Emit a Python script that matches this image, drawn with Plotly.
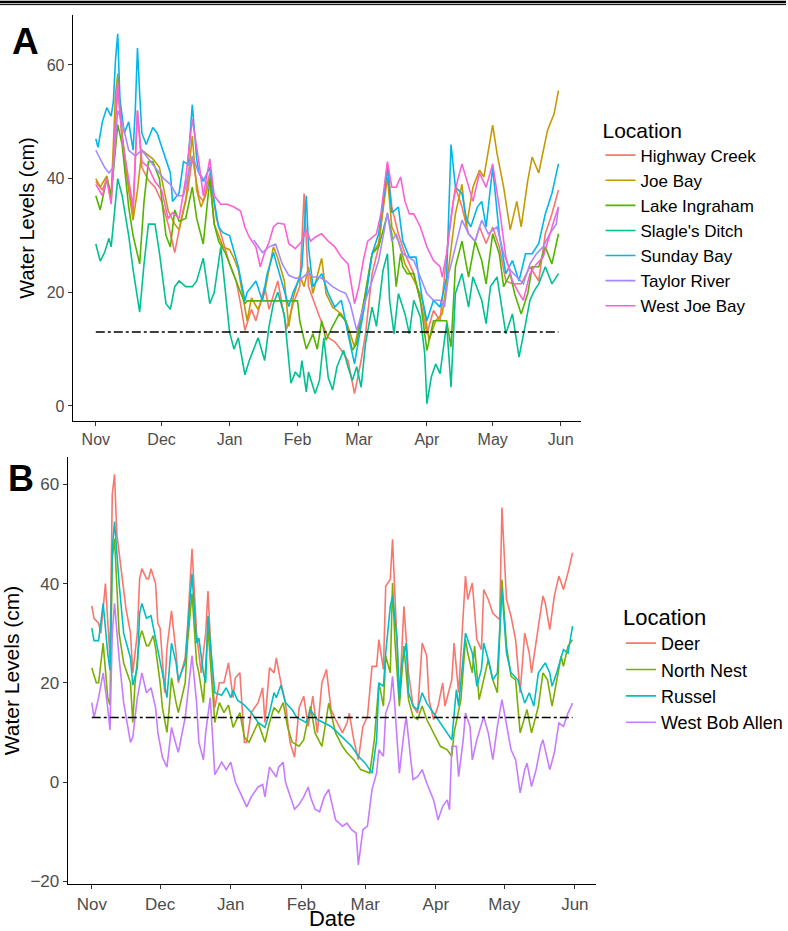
import pandas as pd
import plotly.graph_objects as go

# ---------------- data (day offsets from Nov 1, water level in cm) ----------------
month_labels = ["Nov", "Dec", "Jan", "Feb", "Mar", "Apr", "May", "Jun"]
month_dates = ["2018-11-01", "2018-12-01", "2019-01-01", "2019-02-01",
               "2019-03-01", "2019-04-01", "2019-05-01", "2019-06-01"]
threshold = 13

# Panel A
hc_days = [0,3,5,7,9,10,12,14,17,19,21,24,27,30,33,36,39,42,44,47,49,52,55,58,61,64,66,68,71,73,77,79,83,87,90,93,95,97,102,106,109,112,115,118,121,123,126,129,133,135,138,141,145,149,151,154,157,161,164,167,170,173,175,178,181,184,187,190,194,198,202,205,208,211]
hc_vals = [39.5,38,40,36,50,56,47,41,33.8,52,42,39.7,38.5,36,32,27,33,38,43.8,37,36,41,33,29,25,22,18,13.3,17,15,21,17,22,13.5,18,21,37.4,21,15.7,12,11.3,9.8,8,2.2,8,12.7,23.3,28,42.6,35,30.3,26.8,23.3,16.8,12.7,16.8,15,30.3,38.5,35,30.3,29,31.5,28.6,31.5,28,22,21.5,21.5,24.5,22,30.3,33.8,38]

jb_days = [0,2,5,7,9,10,12,15,17,19,21,24,26,29,31,33,36,38,41,43,44,46,48,50,52,54,56,58,61,63,65,68,69,71,74,77,79,81,83,86,88,90,93,95,97,99,103,105,108,112,115,118,120,123,126,129,133,135,138,141,146,149,152,155,158,161,164,167,169,172,175,177,181,183,186,189,192,194,197,199,202,206,209,211]
jb_vals = [40,38.5,40.5,37,55,58.5,48,38,32.7,38,45,44,43.5,42,38,34.4,32,31,36,44,47.5,38,35,37,40,32,30,28,27.5,26,24,17.4,15,19,17,20,24,28,26,22,14,19,23,21,24.5,19.8,26,19.8,17.4,16.2,14,10.4,14,19.8,26.8,28.6,40.3,31.5,29,25,21.5,18.6,11.6,15,16.2,24.5,33.8,39,31.5,38.5,41.5,40.3,49.4,44.4,38.5,31,36,31.5,39.7,43.8,41,48.5,51.4,55.5]

li_days = [0,2,5,7,10,12,15,17,20,22,24,26,29,32,34,36,38,41,44,46,49,52,54,56,59,62,65,68,69,92,93,96,99,101,103,105,108,111,114,117,119,123,126,129,133,135,137,139,140,142,145,148,151,154,157,160,162,164,167,170,173,176,178,181,184,186,189,191,194,197,199,202,205,208,211]
li_vals = [37,34.5,40,37,49.5,46,35,30,25,36,43,43,40,30,28,34.5,32.5,33,38.5,33,28.5,40,32,29,27,24,21,18,18.5,18.5,15,10,12.7,10,15,11.6,14,16.2,15,9.8,11,19.8,26.8,28,33.8,30.3,21,26.8,24.5,23.3,23.3,18.6,9.8,15,15,15,10.4,24.5,29,22.7,29,25.6,21.5,30.3,26.8,21,23.3,19.8,16.2,19.8,24.5,24.5,28,25,30.3]

sd_days = [0,2,4,6,7,10,12,15,17,20,22,24,27,29,32,34,36,38,41,44,46,49,52,54,57,59,61,63,65,68,70,72,74,77,79,81,83,86,89,91,93,94,96,97,100,102,104,106,108,110,113,115,117,119,121,123,126,128,131,133,134,136,138,141,143,145,148,150,151,153,155,157,160,162,164,167,170,172,176,178,180,183,185,187,190,193,196,198,200,202,205,208,211]
sd_vals = [28.5,25.5,27,29.5,28,40,37,30,24,16.5,25,32,32,27,18,17,21,22,21,21,22,26,18,20,28,20,13,10,12,5.5,8,10,12,8,14,18,20,16,4,6,5,8,2.5,6,2.2,4.5,12,5,2.8,6.9,9.8,6.9,4.5,6.9,3.3,11,17.4,14,23.9,26.8,18.6,12.7,19.8,16.2,12.7,18.6,15.7,9.2,0.4,5.1,7.4,5.7,14.5,3.3,19.8,23.3,17.4,22.7,18.6,14.5,21,22.7,17.4,12.7,16.2,8.6,14.5,18.6,20.3,21.5,24.5,21.5,23.3]

sb_days = [0,1,3,5,7,8,9,10,11,13,15,17,18,19,20,21,23,26,28,31,34,35,38,40,42,44,46,47,49,52,54,56,58,61,63,65,68,69,71,73,76,78,81,84,86,88,90,93,94,95,96,97,99,103,106,109,112,115,118,120,123,126,129,131,133,135,138,140,143,146,149,151,154,157,160,162,164,167,169,171,174,176,178,181,184,187,190,193,196,199,202,205,208,211]
sb_vals = [47,45.5,50,52.5,51,53.5,61,65.5,54,48,50,45,52,63,55,48,46,49,48,44.5,41,36,37.5,43,42.5,53,43.5,41,39.5,42,36,31.5,30.5,30,27,24.5,18.5,20,21,22,18.5,23,27,23,20,17.5,20,22.5,24.5,30,37,28,21,23.3,19.8,17.4,18.6,12.7,7.4,12,18.6,26.8,30.3,36,42,34,35,29,26.2,26.2,18.6,15,18.6,17.4,22.7,46,38.5,37.4,33,31.5,35,36,31.5,42,30.3,23.3,25.6,22,26.8,26.8,28.6,33.8,37.4,42.6]

tr_days = [0,2,4,6,8,10,12,15,18,21,25,28,31,34,37,40,44,47,50,52,62,72,76,79,82,85,88,91,94,97,99,102,105,108,111,114,116,119,121,123,126,129,133,135,137,140,145,148,151,154,157,159,161,164,167,170,173,176,179,183,186,189,192,195,198,201,204,207,210,211]
tr_vals = [45,43.5,42,41,42,52,50,45,44,45,43,41.5,40,39,37,37,44,41,39.5,38,None,29.2,27,28,28.5,25,23,22.5,22.5,23.5,22.7,22.7,22,21,20.3,19.8,18,13.3,16.2,18.6,22,25.6,34,29,30.3,26.8,25.6,22.7,19.8,18.6,18.6,17.4,23.3,28,32.7,30.3,29,32.7,30.3,31.5,26.8,23.9,22.7,21.5,25,26.8,28,30.3,32,35]

wjb_days = [0,3,5,7,9,10,12,14,17,19,21,24,27,30,33,35,38,41,44,47,49,52,54,57,60,63,66,68,70,73,75,77,79,81,83,86,88,91,94,96,98,100,103,106,109,112,115,117,118,120,122,124,128,130,133,135,137,139,141,143,145,148,151,154,157,158,160,163,165,167,170,172,175,178,181,184,187,190,193,195,198,201,204,207,209,211]
wjb_vals = [39,37,40,35.5,50,57,47,42,35,52,43,42,39.5,38,33,34,33,40,50.5,43,37,43.5,37,35.5,35.5,35,34.3,31.5,29.7,28,24.5,27,28.8,31.5,32.2,32,28.6,27.7,29,31,29,29.7,30.3,29,28,26.2,25,20.3,18,21,25.6,29,30.3,33.8,43,38.5,38.5,40.3,36,33.8,33.8,31.5,28,25.6,24.5,22.7,26.8,36,39.7,42.6,38.5,36,41,38.5,42.6,35,26.2,22,19.8,18.6,23.3,25,26.2,30.3,32.7,35]

# Panel B
deer_days = [0,1,3,4,6,7,8,9,10,11,13,15,17,18,20,21,22,24,25,26,28,29,30,32,33,35,37,38,41,42,44,46,48,50,51,53,54,56,58,60,62,63,65,67,68,70,73,75,76,78,80,81,83,85,87,89,91,93,95,97,99,101,103,105,107,110,112,113,115,117,119,121,123,125,126,128,129,131,132,133,135,137,139,141,143,145,147,148,150,152,154,155,158,159,161,164,165,167,169,171,172,174,176,179,180,182,184,186,188,190,192,193,196,198,199,201,203,205,207,209,211]
deer_vals = [35.5,33,32,30,40,32,25,58,62,50,42,35,30,22,30,41,43,41,41,43,40,32,31,18,27,34.5,26,20,25,31,47,30,22,30,38.5,20,15,20,20,24,17,21,22,8,8,14,16,19,12,23,22,25,20,16,8,5,15,17.3,11.2,17.3,9.9,20,22.7,14.6,12.6,9.9,11.9,13.9,8.5,4.5,11.2,13.2,23.3,23.3,28.7,22.7,39.5,40.8,48.9,36.8,16.6,35.4,22,15.3,13.9,28,25.4,16.6,12.6,15.3,20,15.3,20.6,28,18,41.5,36.8,40.1,28.7,26.7,38.8,36.8,34,32.7,55.3,36.8,33.4,28.7,18,30,26,22,31.4,37.5,36.1,30.7,37.5,41.5,38.8,42.2,46.2]

nn_days = [0,2,3,5,7,8,9,10,12,14,17,18,19,21,22,24,25,27,28,30,31,33,34,35,37,38,41,42,44,46,47,49,51,53,54,56,58,60,62,65,67,69,71,73,76,78,80,82,84,86,88,91,93,96,98,101,104,107,110,112,115,118,122,124,126,128,129,131,132,133,135,137,139,141,143,145,147,150,153,156,158,159,162,164,165,167,168,170,172,174,176,178,180,182,184,186,188,191,193,196,198,200,202,204,206,207,209,211]
nn_vals = [23,20,20,28,17,15.5,45,49,30,24,20,12,20,29,30.5,27.5,27.5,29.5,27,20,15,10,15,21,16,14,20,28,38,24,22,16,31,18,12,16,14,15.5,11,14,9,8,10,12,8,12,15,14,16,11,8,7.2,8.5,15.3,9.9,7.2,15.9,9.9,7.2,5.9,4.5,2.5,1.8,8.5,20,15.3,25.4,22,40.1,28.7,15.3,27.4,16.6,13.2,12.6,15.3,12.6,9.9,7.2,6.5,5.2,9.9,16.6,28.7,26,22,27.4,16.6,20.6,24.7,20.6,18,40.8,27.4,21.3,20.6,9.9,14.6,9.9,15.3,22,20.6,15.3,20,25.4,23.3,27.4,28.7]

ru_days = [0,1,3,5,7,8,9,10,12,14,17,18,20,21,22,24,26,28,29,31,33,34,35,37,38,41,42,44,46,47,49,50,51,53,54,57,59,61,62,64,67,70,73,76,78,80,81,83,85,88,90,94,96,99,102,105,108,111,114,117,120,123,125,126,128,129,131,132,134,135,136,138,139,141,143,145,147,150,153,156,158,160,161,164,165,167,169,171,172,174,176,178,180,182,184,187,190,192,194,196,199,201,202,204,207,209,211]
ru_vals = [31,28.5,28.5,36,26,22.5,47,52.5,40,30,25,19.5,23,34,36,33,33.5,29,27,22,17,22,28,24,20.5,24,30,42,28,29,22,20,33.5,22,18,17.5,19,17,18.5,16.5,15.5,14,12,11,14,18,17,19.5,16,14.5,13,12,14.5,12.6,11.9,11.2,9.9,8.5,7.2,5.2,3.8,1.8,8.5,20,19.3,26,35.4,37.5,28.7,16.6,23.3,28,18,15.3,14.6,18,15.9,13.9,11.9,9.9,8.5,18.6,15.3,30,28.7,26,19.3,22.7,28,24.7,20.6,22,38.8,26,22,20.6,15.9,18,15.3,22,24,22,19.3,22,26.7,26,31.4]

wba_days = [0,1,3,5,7,8,9,10,12,14,17,18,20,22,24,26,28,29,31,33,34,35,37,38,41,44,46,47,49,50,52,53,54,57,59,61,63,65,68,70,73,75,76,78,81,82,84,85,87,89,91,93,95,96,98,100,102,104,105,107,110,112,114,116,117,119,121,123,125,126,128,129,131,132,133,135,137,138,140,141,143,145,147,150,152,154,156,157,158,160,161,163,164,166,167,169,172,174,176,178,180,182,184,186,188,190,191,193,195,197,198,201,203,205,207,209,211]
wba_vals = [16,13,17,22,15,10.5,30,36,25,16,8,9,17,22,18,19,15,10,5,3,7,11,7.5,6,13,25.5,16,8,4.5,10,17,10,1.5,4,2.5,4,0,-2,-5,-3,-1,-0.5,-3,3,1,3,4,0,-3,-5.5,-4.5,-3,-1,-3,-5.5,-6,-3,-1.5,-3.6,-7.6,-8.9,-8.3,-9.6,-10.3,-16.7,-9.6,-8.9,-1.5,1.8,6.5,5.2,13.9,16.6,21.3,15.3,1.8,9.9,13.2,4.5,0.5,1.1,2.5,-0.2,-3.6,-7.6,-4.9,-3.6,-5.6,7.2,7.2,1.1,8.5,13.9,11.2,4.5,8.5,13.2,9.9,4.5,11.2,16.6,11.2,6.5,4.5,-2.2,2.5,3.8,-0.9,2.5,7.2,8.5,2.5,5.9,11.9,11.2,13.9,15.9]

# ---------------- figure ----------------
base = pd.Timestamp("2018-11-01")


def to_dates(days):
    return base + pd.to_timedelta(days, unit="D")


panel_a = [
    ("Highway Creek", hc_days, hc_vals, "#F8766D"),
    ("Joe Bay", jb_days, jb_vals, "#C49A00"),
    ("Lake Ingraham", li_days, li_vals, "#53B400"),
    ("Slagle's Ditch", sd_days, sd_vals, "#00C094"),
    ("Sunday Bay", sb_days, sb_vals, "#00B6EB"),
    ("Taylor River", tr_days, tr_vals, "#A58AFF"),
    ("West Joe Bay", wjb_days, wjb_vals, "#FB61D7"),
]
panel_b = [
    ("Deer", deer_days, deer_vals, "#F8766D"),
    ("North Nest", nn_days, nn_vals, "#7CAE00"),
    ("Russel", ru_days, ru_vals, "#00BFC4"),
    ("West Bob Allen", wba_days, wba_vals, "#C77CFF"),
]

FONT = "Liberation Sans, Arial, Helvetica, sans-serif"
fig = go.Figure()

for name, d, v, c in panel_a:
    fig.add_trace(go.Scatter(x=to_dates(d), y=v, mode="lines", name=name,
                             line=dict(color=c, width=1.6), xaxis="x", yaxis="y",
                             legend="legend", connectgaps=False))
fig.add_trace(go.Scatter(x=to_dates([0, 211]), y=[threshold, threshold], mode="lines",
                         line=dict(color="black", width=1.5, dash="dashdot"),
                         xaxis="x", yaxis="y", showlegend=False, hoverinfo="skip"))

for name, d, v, c in panel_b:
    fig.add_trace(go.Scatter(x=to_dates(d), y=v, mode="lines", name=name,
                             line=dict(color=c, width=1.6), xaxis="x2", yaxis="y2",
                             legend="legend2"))
fig.add_trace(go.Scatter(x=to_dates([0, 211]), y=[threshold, threshold], mode="lines",
                         line=dict(color="black", width=1.5, dash="dashdot"),
                         xaxis="x2", yaxis="y2", showlegend=False, hoverinfo="skip"))

xrange_ = [base - pd.Timedelta(hours=252), base + pd.Timedelta(days=221, hours=12)]

common_x = dict(range=xrange_, tickvals=month_dates, ticktext=month_labels,
                showline=True, linecolor="black", linewidth=1.3, ticks="outside",
                ticklen=4, tickwidth=1.2, tickcolor="#333333", showgrid=False,
                zeroline=False, automargin=False)
common_y = dict(showline=True, linecolor="black", linewidth=1.3, ticks="outside",
                ticklen=4, tickwidth=1.2, tickcolor="#333333", showgrid=False,
                zeroline=False, automargin=False)

fig.update_layout(
    width=788, height=931,
    margin=dict(l=0, r=0, t=0, b=0),
    paper_bgcolor="white", plot_bgcolor="white",
    font=dict(family=FONT, color="black"),
    xaxis=dict(domain=[0.0926, 0.7398], anchor="y",
               tickfont=dict(size=16, color="#4D4D4D"), **common_x),
    yaxis=dict(domain=[0.5478, 0.9839], anchor="x", range=[-2.64, 68.8],
               tickvals=[0, 20, 40, 60], tickfont=dict(size=16, color="#4D4D4D"),
               title=dict(text="Water Levels (cm)", font=dict(size=20, color="black"),
                          standoff=6), **common_y),
    xaxis2=dict(domain=[0.0863, 0.7589], anchor="y2",
                tickfont=dict(size=17, color="#4D4D4D"),
                title=dict(text="Date", font=dict(size=22, color="black"), standoff=2),
                **common_x),
    yaxis2=dict(domain=[0.0505, 0.5091], anchor="x2", range=[-20.55, 65.5],
                tickvals=[-20, 0, 20, 40, 60], tickfont=dict(size=17, color="#4D4D4D"),
                title=dict(text="Water Levels (cm)", font=dict(size=21, color="black"),
                           standoff=6), **common_y),
    legend=dict(x=0.764, y=0.8815, xanchor="left", yanchor="top",
                title=dict(text="Location", font=dict(size=21)),
                font=dict(size=17), bgcolor="rgba(0,0,0,0)"),
    legend2=dict(x=0.790, y=0.3595, xanchor="left", yanchor="top",
                 title=dict(text="Location", font=dict(size=22)),
                 font=dict(size=18), bgcolor="rgba(0,0,0,0)"),
    showlegend=True,
)

fig.add_annotation(text="<b>A</b>", x=0.033, y=0.9549, xref="paper", yref="paper",
                   showarrow=False, font=dict(size=37, color="black", family=FONT),
                   xanchor="center", yanchor="middle")
fig.add_annotation(text="<b>B</b>", x=0.0266, y=0.4855, xref="paper", yref="paper",
                   showarrow=False, font=dict(size=36, color="black", family=FONT),
                   xanchor="center", yanchor="middle")

# double rule at the top of the page
fig.add_shape(type="line", xref="paper", yref="paper", x0=0, x1=1,
              y0=1 - 2 / 931, y1=1 - 2 / 931, line=dict(color="black", width=2.5))
fig.add_shape(type="line", xref="paper", yref="paper", x0=0, x1=1,
              y0=1 - 4.6 / 931, y1=1 - 4.6 / 931, line=dict(color="black", width=1))

fig.write_html("out.html",
               config={"displayModeBar": False},
               post_script="document.body.style.margin='0px';"
                           "document.body.style.padding='0px';"
                           "document.body.style.overflow='hidden';")
